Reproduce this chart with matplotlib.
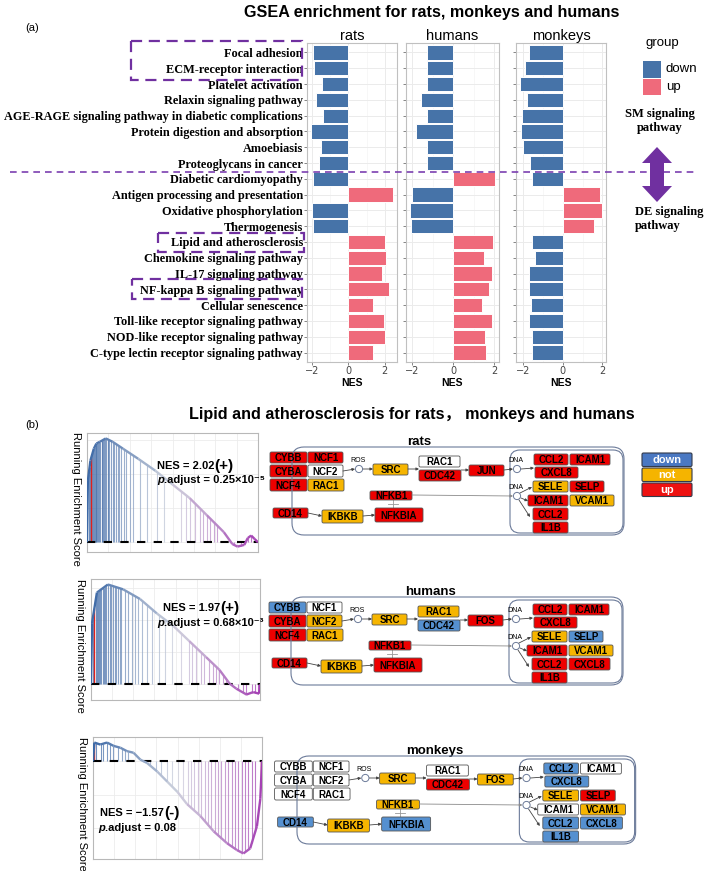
import numpy as np
import matplotlib
matplotlib.use("Agg")
import matplotlib.pyplot as plt
from matplotlib.patches import FancyBboxPatch, Rectangle, Circle, Polygon, FancyArrowPatch
from matplotlib.collections import LineCollection
from matplotlib.colors import LinearSegmentedColormap

W, H = 709, 871
SANS = ["Liberation Sans", "DejaVu Sans"]
SERIF = ["Liberation Serif", "DejaVu Serif"]

# ---------------- panel (a): NES per pathway ----------------
pathways = ["Focal adhesion", "ECM-receptor interaction", "Platelet activation",
            "Relaxin signaling pathway",
            "AGE-RAGE signaling pathway in diabetic complications",
            "Protein digestion and absorption", "Amoebiasis", "Proteoglycans in cancer",
            "Diabetic cardiomyopathy", "Antigen processing and presentation",
            "Oxidative phosphorylation", "Thermogenesis", "Lipid and atherosclerosis",
            "Chemokine signaling pathway", "IL-17 signaling pathway",
            "NF-kappa B signaling pathway", "Cellular senescence",
            "Toll-like receptor signaling pathway", "NOD-like receptor signaling pathway",
            "C-type lectin receptor signaling pathway"]
species = ["rats", "humans", "monkeys"]
nes_rats = [-1.96, -1.89, -1.47, -1.77, -1.40, -2.06, -1.52, -1.60, -1.94, 2.45,
            -2.00, -1.94, 2.02, 2.09, 1.87, 2.26, 1.37, 1.94, 1.99, 1.37]
nes_humans = [-1.31, -1.31, -1.31, -1.58, -1.31, -1.84, -1.31, -1.31, 2.04, -2.02,
              -2.11, -2.09, 1.97, 1.51, 1.91, 1.78, 1.42, 1.89, 1.56, 1.60]
nes_monkeys = [-1.71, -1.91, -2.16, -1.80, -2.04, -2.11, -2.00, -1.64, -1.58, 1.87,
               1.98, 1.60, -1.57, -1.40, -1.69, -1.69, -1.62, -1.73, -1.56, -1.58]
group_labels = ["down", "up"]

# ---------------- panel (b): running enrichment scores ----------------
rank_rats = [0, 0.005, 0.02, 0.04, 0.055, 0.075, 0.11, 0.15, 0.21, 0.30, 0.40, 0.50,
             0.60, 0.70, 0.80, 0.85, 0.88, 0.92, 0.94, 0.96, 0.98, 1.0]
es_rats = [0, 0.36, 0.48, 0.55, 0.58, 0.59, 0.61, 0.59, 0.55, 0.49, 0.42, 0.34,
           0.26, 0.16, 0.06, -0.01, -0.025, -0.015, 0.025, 0.04, 0.02, 0.0]
hits_rats = [0.01, 0.015, 0.03, 0.035, 0.04, 0.045, 0.05, 0.055, 0.06, 0.065, 0.07,
             0.075, 0.085, 0.09, 0.095, 0.1, 0.105, 0.11, 0.12, 0.125, 0.13, 0.14,
             0.15, 0.16, 0.17, 0.18, 0.19, 0.2, 0.215, 0.23, 0.25, 0.27, 0.31, 0.35,
             0.41, 0.45, 0.55, 0.58, 0.6, 0.63, 0.66, 0.68, 0.7, 0.72, 0.74, 0.76,
             0.86, 0.9, 0.94, 0.96]
red_rats = [0.025]

rank_humans = [0, 0.006, 0.035, 0.1, 0.19, 0.29, 0.39, 0.49, 0.58, 0.68, 0.76, 0.82,
               0.86, 0.92, 0.96, 0.995, 1.0]
es_humans = [0, 0.38, 0.57, 0.62, 0.59, 0.53, 0.44, 0.36, 0.27, 0.17, 0.09, 0.005,
             -0.027, -0.063, -0.048, -0.058, 0.0]
hits_humans = [0.01, 0.03, 0.035, 0.04, 0.05, 0.055, 0.06, 0.07, 0.075, 0.08, 0.09,
               0.1, 0.11, 0.12, 0.13, 0.14, 0.15, 0.16, 0.17, 0.18, 0.2, 0.22, 0.24,
               0.26, 0.28, 0.3, 0.33, 0.36, 0.4, 0.44, 0.48, 0.53, 0.58, 0.6, 0.62,
               0.65, 0.67, 0.7, 0.72, 0.74, 0.76, 0.78, 0.8, 0.87, 0.9, 0.92, 0.95,
               0.97, 0.99]
red_humans = [0.02]

rank_monkeys = [0, 0.008, 0.043, 0.083, 0.122, 0.162, 0.2, 0.24, 0.28, 0.32, 0.38,
                0.44, 0.5, 0.556, 0.635, 0.714, 0.793, 0.852, 0.89, 0.93, 0.97, 0.99, 1.0]
es_monkeys = [0, 0.112, 0.10, 0.112, 0.092, 0.081, 0.061, 0.051, 0.01, -0.01, -0.061,
              -0.122, -0.183, -0.255, -0.326, -0.418, -0.489, -0.53, -0.55, -0.52,
              -0.387, -0.224, 0]
hits_monkeys = [0.02, 0.05, 0.06, 0.08, 0.1, 0.12, 0.15, 0.17, 0.19, 0.21, 0.31, 0.34,
                0.37, 0.4, 0.44, 0.47, 0.5, 0.53, 0.56, 0.58, 0.6, 0.62, 0.64, 0.66,
                0.68, 0.7, 0.72, 0.74, 0.76, 0.78, 0.8, 0.82, 0.84, 0.86, 0.88, 0.9,
                0.92, 0.94, 0.96]
red_monkeys = [0.008, 0.995]

nes_text = ["NES = 2.02", "NES = 1.97", "NES = \u22121.57"]
sign_text = ["(+)", "(+)", "(-)"]
padj_text = [".adjust = 0.25\u00d710\u207b\u2075", ".adjust = 0.68\u00d710\u207b\u00b3",
             ".adjust = 0.08"]

# ---------------- pathway diagrams ----------------
genes_rats = ["CYBB", "NCF1", "CYBA", "NCF2", "NCF4", "RAC1", "SRC", "RAC1", "CDC42",
              "JUN", "CCL2", "ICAM1", "CXCL8", "SELE", "SELP", "ICAM1", "VCAM1",
              "CCL2", "CXCL8", "IL1B", "NFKB1", "NFKBIA", "CD14", "IKBKB"]
genes_other = genes_rats[:9] + ["FOS"] + genes_rats[10:]
status_rats = ["up", "up", "up", "none", "up", "not", "not", "none", "up", "up",
               "up", "up", "up", "not", "up", "up", "not", "up", None, "up",
               "up", "up", "up", "not"]
status_humans = ["down", "none", "up", "not", "up", "not", "not", "not", "down", "up",
                 "up", "up", "up", "not", "down", "up", "not", "up", "up", "up",
                 "up", "up", "up", "not"]
status_monkeys = ["none", "none", "none", "none", "none", "none", "not", "none", "up",
                  "not", "down", "none", "down", "not", "up", "none", "not", "down",
                  "down", "down", "not", "down", "down", "not"]
legend_status = ["down", "not", "up"]

# layout of the gene boxes (x, y, w, h), relative to the cell's top-left corner
slots = [(-22, 5, 37, 11), (16, 5, 35, 11), (-22, 18, 37, 12), (16, 18, 35, 12),
         (-22, 32, 37, 12), (16, 32, 36, 12), (81, 17, 35, 11), (127, 9, 41, 11),
         (127, 23, 42, 11), (177, 18, 35, 11), (242, 7, 34, 11), (278, 7, 40, 11),
         (243, 20, 43, 11), (241, 34, 35, 11), (278, 34, 34, 11), (236, 48, 40, 11),
         (278, 48, 44, 11), (241, 61, 35, 12), (278, 61, 41, 12), (241, 75, 35, 11),
         (78, 44, 42, 9), (83, 61, 48, 14), (-19, 61, 35, 10), (30, 63, 41, 13)]

BLUE, PINK = "#4673a8", "#ef6a7b"
BOXCOL = {"down": "#5590d0", "not": "#f6b500", "up": "#ee0000", "none": "white"}
LEGCOL = {"down": "#4a78c2", "not": "#f5b400", "up": "#ee1111"}
PURPLE = "#7030a0"

fig = plt.figure(figsize=(W / 100, H / 100), dpi=100)


def px_axes(l, t, r, b):
    return fig.add_axes([l / W, 1 - b / H, (r - l) / W, (b - t) / H])


# ---- bar facets
ypos = np.arange(len(pathways))
boxes = [(307, 43, 397, 362), (406, 43, 499, 362), (516, 43, 606, 362)]
for k, (name, vals, box) in enumerate(zip(species, [nes_rats, nes_humans, nes_monkeys], boxes)):
    ax = px_axes(*box)
    vals = np.array(vals)
    cols = np.where(vals < 0, BLUE, PINK)
    ax.barh(ypos, vals, height=0.9, color=cols, edgecolor="white", linewidth=0.7, zorder=3)
    lo, hi = min(vals.min(), 0), max(vals.max(), 0)
    pad = (hi - lo) * 0.05
    ax.set_xlim(lo - pad, hi + pad)
    ax.set_ylim(len(pathways) - 0.4, -0.6)
    ax.set_xticks([-2, 0, 2])
    ax.set_xticks([-1, 1], minor=True)
    ax.set_yticks(ypos)
    ax.grid(True, which="major", color="#ebebeb", lw=0.7, zorder=0)
    ax.grid(True, which="minor", axis="x", color="#f4f4f4", lw=0.5, zorder=0)
    ax.tick_params(axis="both", length=2, width=0.5, color="#555555", labelsize=7,
                   labelcolor="#444444", pad=1)
    ax.tick_params(axis="x", which="minor", length=0)
    if k == 0:
        ax.set_yticklabels(pathways, fontfamily=SERIF, fontweight="bold", fontsize=8.8,
                           color="black")
    else:
        ax.set_yticklabels([])
    for sp in ax.spines.values():
        sp.set_color("#c0c0c0")
        sp.set_linewidth(0.8)
    ax.set_title(name, fontsize=10.5, family=SANS, pad=2)
    ax.set_xlabel("NES", fontsize=7.5, fontweight="bold", family=SANS, labelpad=1)

# ---- GSEA running score plots
gs_cmap = LinearSegmentedColormap.from_list("gs", ["#3b68a6", "#cfd2dd", "#a43fb3"])
gsea_boxes = [(87, 433, 258, 552), (91, 579, 260, 700), (93, 737, 262, 859)]
gsea_data = [(rank_rats, es_rats, hits_rats, red_rats),
             (rank_humans, es_humans, hits_humans, red_humans),
             (rank_monkeys, es_monkeys, hits_monkeys, red_monkeys)]
for box, (rank, es, hits, red) in zip(gsea_boxes, gsea_data):
    ax = px_axes(*box)
    rank, es, hits, red = map(np.array, (rank, es, hits, red))
    tops = np.interp(hits, rank, es)
    segs = [[(h, 0), (h, t)] for h, t in zip(hits, tops)]
    ax.add_collection(LineCollection(segs, colors=gs_cmap(hits), linewidths=0.8,
                                     alpha=0.75, zorder=2))
    ax.vlines(red, 0, np.interp(red, rank, es), color="#e0201b", lw=1.0, zorder=2)
    pts = np.column_stack([rank, es])
    curve = np.stack([pts[:-1], pts[1:]], axis=1)
    mids = (rank[:-1] + rank[1:]) / 2
    ax.add_collection(LineCollection(curve, colors=gs_cmap(mids), linewidths=1.7, zorder=4))
    ax.axhline(0, color="black", lw=1.5, ls=(0, (4, 4)), zorder=3)
    ax.set_xlim(0, 1)
    span = es.max() - es.min()
    ax.set_ylim(es.min() - 0.05 * span, es.max() + 0.05 * span)
    ax.set_xticks([0.25, 0.5, 0.75])
    ax.set_xticks([0.125, 0.375, 0.625, 0.875], minor=True)
    ax.grid(True, which="both", color="#ececec", lw=0.6, zorder=0)
    ax.tick_params(which="both", length=0, labelbottom=False, labelleft=False)
    for sp in ax.spines.values():
        sp.set_color("#b8b8b8")
        sp.set_linewidth(0.8)
    ax.text(-0.065, 0.45, "Running Enrichment Score", transform=ax.transAxes,
            rotation=270, ha="center", va="center", fontsize=8, family=SANS)

# ---- overlay in pixel coordinates
ov = fig.add_axes([0, 0, 1, 1])
ov.set_xlim(0, W)
ov.set_ylim(H, 0)
ov.axis("off")

ov.text(432, 13, "GSEA enrichment for rats, monkeys and humans", ha="center", va="center",
        fontsize=11.6, fontweight="bold", family=SANS)
ov.text(32, 28, "(a)", ha="center", va="center", fontsize=8, family=SANS)
ov.text(412, 414, "Lipid and atherosclerosis for rats\uff0c monkeys and humans",
        ha="center", va="center", fontsize=11.6, fontweight="bold",
        family=["Liberation Sans", "Noto Sans CJK SC"])
ov.text(32, 425, "(b)", ha="center", va="center", fontsize=8, family=SANS)

# dashed markers on panel (a)
ov.plot([10, 698], [172, 172], color="#7b3fb0", lw=1.2, ls=(0, (4, 3)), zorder=5)
for (l, t, r, b) in [(131, 41, 302, 80), (158, 233, 304, 252), (132, 279, 302, 299)]:
    ov.add_patch(Rectangle((l, t), r - l, b - t, fill=False, ec=PURPLE, lw=1.6,
                           ls=(0, (5, 3)), zorder=5))

# group legend
ov.text(662, 43, "group", ha="center", va="center", fontsize=9.5, family=SANS)
for lab, col, (t, b) in zip(group_labels, [BLUE, PINK], [(61, 78), (79, 95)]):
    ov.add_patch(Rectangle((643, t), 18, b - t, fc=col, ec="none"))
    ov.text(666, (t + b) / 2, lab, ha="left", va="center", fontsize=9.5, family=SANS)

ov.text(660, 121, "SM signaling\npathway", ha="center", va="center", fontsize=9,
        fontweight="bold", family=SERIF, linespacing=1.3)
ov.text(635, 219, "DE signaling\npathway", ha="left", va="center", fontsize=9,
        fontweight="bold", family=SERIF, linespacing=1.3)
x0, top, bot, hw, sw, hl = 657, 147, 202, 15, 7, 16
ov.add_patch(Polygon([(x0, top), (x0 + hw, top + hl), (x0 + sw, top + hl),
                      (x0 + sw, bot - hl), (x0 + hw, bot - hl), (x0, bot),
                      (x0 - hw, bot - hl), (x0 - sw, bot - hl), (x0 - sw, top + hl),
                      (x0 - hw, top + hl)], closed=True, fc=PURPLE, ec="none", zorder=5))

# NES annotations on GSEA plots
nes_pos = [((157, 466), (157, 480)), ((163, 608), (157, 623)), ((100, 813), (98, 828))]
for (npos, ppos), nt, st, pt in zip(nes_pos, nes_text, sign_text, padj_text):
    t1 = ov.text(*npos, nt, ha="left", va="center", fontsize=8, fontweight="bold",
                 family=SANS, zorder=6)
    ov.annotate(st, xy=(1, 0.5), xycoords=t1, ha="left", va="center", fontsize=11,
                fontweight="bold", family=SANS, zorder=6)
    t2 = ov.text(*ppos, "p", ha="left", va="center", fontsize=8, fontweight="bold",
                 style="italic", family=SANS, zorder=6)
    ov.annotate(pt, xy=(1, 0), xycoords=t2, ha="left", va="bottom", fontsize=8,
                fontweight="bold", family=SANS, zorder=6)


def arrow(p, q, col="#444444", lw=0.6):
    ov.add_patch(FancyArrowPatch(p, q, arrowstyle="-|>", mutation_scale=4, color=col,
                                 lw=lw, shrinkA=0, shrinkB=0, zorder=3))


def draw_pathway(origin, sx, label_x, title, genes, status, legend=False):
    ox, oy = origin

    def P(x, y):
        return (ox + x * sx, oy + y)

    ov.text(label_x, oy - 5, title, ha="center", va="center", fontsize=9.5,
            fontweight="bold", family=SANS)
    # cell and nucleus
    ov.add_patch(FancyBboxPatch(P(0, 0), 332 * sx, 88, boxstyle="round,pad=0,rounding_size=12",
                                fill=False, ec="#6b7a99", lw=0.8, zorder=4))
    ov.add_patch(FancyBboxPatch(P(218, 3), 113 * sx, 83, boxstyle="round,pad=0,rounding_size=10",
                                fill=False, ec="#6b7a99", lw=0.8, zorder=2))
    for (x, y, w, h), g, s in zip(slots, genes, status):
        if s is None:
            continue
        ov.add_patch(FancyBboxPatch(P(x, y), w * sx, h, boxstyle="round,pad=0,rounding_size=1.5",
                                    fc=BOXCOL[s], ec="#555555", lw=0.6, zorder=3))
        ov.text(*P(x + w / 2, y + h / 2 + 0.5), g, ha="center", va="center", fontsize=7,
                fontweight="bold", family=SANS, zorder=5)
    for cx, cy in [(67, 22), (225, 22), (225, 49)]:
        ov.add_patch(Circle(P(cx, cy), 3.6, fc="white", ec="#6b7a99", lw=0.7, zorder=3))
    ov.text(*P(66, 13), "ROS", ha="center", va="center", fontsize=5, family=SANS)
    ov.text(*P(224, 13), "DNA", ha="center", va="center", fontsize=5, family=SANS)
    ov.text(*P(224, 40), "DNA", ha="center", va="center", fontsize=5, family=SANS)
    for p, q in [((51, 24), (63, 22)), ((71, 22), (81, 22)), ((116, 22), (127, 22)),
                 ((169, 23), (177, 23)), ((212, 23), (221, 22)), ((229, 22), (242, 21)),
                 ((228, 46), (240, 40)), ((229, 51), (236, 54)), ((227, 53), (238, 70)),
                 ((16, 66), (30, 69)), ((71, 69), (83, 68))]:
        arrow(P(*p), P(*q))
    arrow(P(120, 48), P(221, 49), col="#8a8a8a", lw=0.6)
    ov.plot(*zip(P(101, 53), P(101, 61)), color="#999999", lw=0.6, zorder=2)
    ov.plot(*zip(P(96, 57), P(106, 57)), color="#999999", lw=0.6, zorder=2)
    if legend:
        for s, t in zip(legend_status, [453, 468, 483]):
            ov.add_patch(FancyBboxPatch((642, t), 50, 13.5, boxstyle="round,pad=0,rounding_size=1.5",
                                        fc=LEGCOL[s], ec="#333a4a", lw=0.8, zorder=3))
            ov.text(667, t + 7, s, ha="center", va="center", fontsize=8, fontweight="bold",
                    color="white", family=SANS, zorder=5)


draw_pathway((292, 447), 1.0, 419, "rats", genes_rats, status_rats, legend=True)
draw_pathway((291, 597), 1.0, 431, "humans", genes_other, status_humans)
draw_pathway((297, 756), 1.02, 435, "monkeys", genes_other, status_monkeys)

fig.savefig("out.png", dpi=100)
